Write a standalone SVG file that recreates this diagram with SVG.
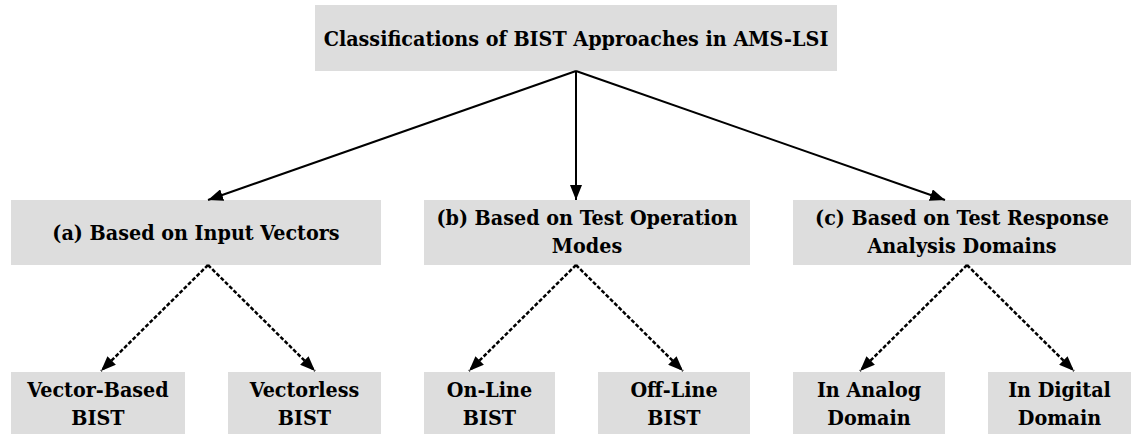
<svg xmlns="http://www.w3.org/2000/svg" width="1132" height="434" viewBox="0 0 1132 434">
  <style>
    .box { fill: #dddddd; stroke: none; }
    .t { font-family: "DejaVu Serif Condensed", "DejaVu Serif", serif; font-weight: bold; font-size: 21.3px; fill: #000; text-anchor: middle; }
    .solid { stroke: #000; stroke-width: 2; fill: none; marker-end: url(#arrow); }
    .dash { stroke: #000; stroke-width: 2.5; stroke-dasharray: 4 2; fill: none; marker-end: url(#arrow); }
  </style>
  <defs>
    <!-- filled triangular arrowhead shared by all connectors -->
    <marker id="arrow" markerUnits="userSpaceOnUse" markerWidth="16" markerHeight="12" refX="15" refY="6" orient="auto">
      <path d="M0,0 L15,6 L0,12 Z" fill="#000"/>
    </marker>
  </defs>
  <rect width="1132" height="434" fill="#fff"/>

  <!-- root -->
  <g id="root">
    <rect class="box" x="315" y="5" width="522" height="66"/>
    <text class="t" x="576" y="46">Classifications of BIST Approaches in AMS-LSI</text>
  </g>

  <!-- categories -->
  <g id="cat-a">
    <rect class="box" x="11" y="200" width="370" height="65"/>
    <text class="t" x="196" y="240">(a) Based on Input Vectors</text>
  </g>
  <g id="cat-b">
    <rect class="box" x="424" y="200" width="326" height="65"/>
    <text class="t" x="587" y="225">(b) Based on Test Operation</text>
    <text class="t" x="587" y="253">Modes</text>
  </g>
  <g id="cat-c">
    <rect class="box" x="793" y="200" width="338" height="65"/>
    <text class="t" x="962" y="225">(c) Based on Test Response</text>
    <text class="t" x="962" y="253">Analysis Domains</text>
  </g>

  <!-- leaves -->
  <g id="leaf-vector-based">
    <rect class="box" x="11" y="372" width="174" height="62"/>
    <text class="t" x="98" y="397">Vector-Based</text>
    <text class="t" x="98" y="425">BIST</text>
  </g>
  <g id="leaf-vectorless">
    <rect class="box" x="228" y="372" width="153" height="62"/>
    <text class="t" x="304.5" y="397">Vectorless</text>
    <text class="t" x="304.5" y="425">BIST</text>
  </g>
  <g id="leaf-online">
    <rect class="box" x="424" y="372" width="131" height="62"/>
    <text class="t" x="489.5" y="397">On-Line</text>
    <text class="t" x="489.5" y="425">BIST</text>
  </g>
  <g id="leaf-offline">
    <rect class="box" x="598" y="372" width="152" height="62"/>
    <text class="t" x="674" y="397">Off-Line</text>
    <text class="t" x="674" y="425">BIST</text>
  </g>
  <g id="leaf-analog">
    <rect class="box" x="793" y="372" width="152" height="62"/>
    <text class="t" x="869" y="397">In Analog</text>
    <text class="t" x="869" y="425">Domain</text>
  </g>
  <g id="leaf-digital">
    <rect class="box" x="988" y="372" width="143" height="62"/>
    <text class="t" x="1059.5" y="397">In Digital</text>
    <text class="t" x="1059.5" y="425">Domain</text>
  </g>

  <!-- connectors: solid from root, dotted to leaves -->
  <g id="connectors">
    <line class="solid" x1="576" y1="71" x2="208" y2="200"/>
    <line class="solid" x1="576" y1="71" x2="576" y2="200"/>
    <line class="solid" x1="576" y1="71" x2="945" y2="200"/>

    <line class="dash" x1="208" y1="265" x2="101" y2="371"/>
    <line class="dash" x1="208" y1="265" x2="315" y2="371"/>
    <line class="dash" x1="576" y1="265" x2="469" y2="371"/>
    <line class="dash" x1="576" y1="265" x2="683" y2="371"/>
    <line class="dash" x1="967" y1="265" x2="860" y2="371"/>
    <line class="dash" x1="967" y1="265" x2="1074" y2="371"/>
  </g>
</svg>
